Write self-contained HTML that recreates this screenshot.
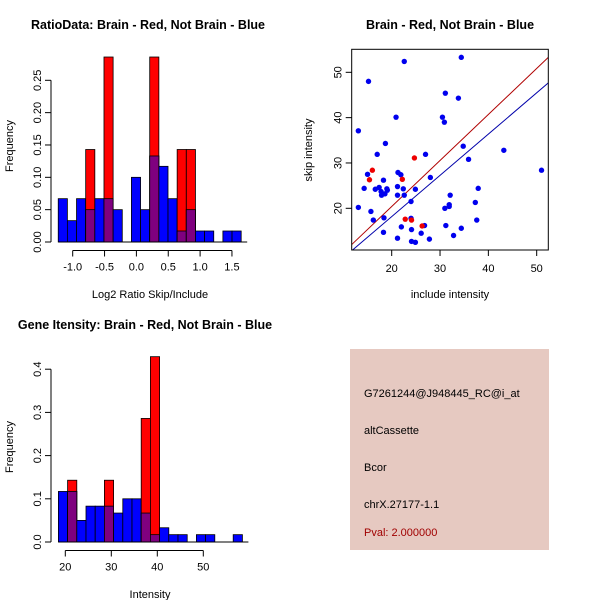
<!DOCTYPE html>
<html><head><meta charset="utf-8"><style>
body{margin:0;background:#fff}
svg{display:block;font-family:"Liberation Sans",Helvetica,sans-serif}
</style></head><body>
<svg id="c" width="600" height="600" viewBox="0 0 600 600">
<rect width="600" height="600" fill="#fff"/>
<g id="h1"></g>
<g id="sc"></g>
<g id="h2"></g>
<g>
<rect x="350" y="349" width="199" height="201" fill="#e6c9c1"/>
<text x="364" y="397" font-size="11">G7261244@J948445_RC@i_at</text>
<text x="364" y="434" font-size="11">altCassette</text>
<text x="364" y="471" font-size="11">Bcor</text>
<text x="364" y="508" font-size="11">chrX.27177-1.1</text>
<text x="364" y="536" font-size="11" fill="#a00000">Pval: 2.000000</text>
</g>
</svg>
<script>
// Ratio histogram data
const h1Start = -1.227, h1Width = 0.1436;
const h1Blue = [0.067,0.033,0.067,0.05,0.067,0.067,0.05,0,0.1,0.05,0.133,0.117,0.067,0.017,0.05,0.017,0.017,0,0.017,0.017];
const h1Red  = [0,0,0,0.143,0,0.286,0,0,0,0,0.286,0,0,0.143,0.143,0,0,0,0,0];
const h1XTicks = [-1.0,-0.5,0.0,0.5,1.0,1.5];
const h1YTicks = [0,0.05,0.10,0.15,0.20,0.25];
const h1XLabels = ["-1.0","-0.5","0.0","0.5","1.0","1.5"];
const h1YLabels = ["0.00","0.05","0.10","0.15","0.20","0.25"];
// Intensity histogram data
const h2Start = 18.5, h2Width = 2;
const h2Blue = [0.117,0.117,0.05,0.083,0.083,0.083,0.067,0.1,0.1,0.067,0.017,0.033,0.017,0.017,0,0.017,0.017,0,0,0.017];
const h2Red  = [0,0.143,0,0,0,0.143,0,0,0,0.286,0.429,0,0,0,0,0,0,0,0,0];
const h2XTicks = [20,30,40,50];
const h2YTicks = [0,0.1,0.2,0.3,0.4];
const h2YLabels = ["0.0","0.1","0.2","0.3","0.4"];
// Scatter data
const blueX = [13.1,13.1,15.2,15.0,14.3,15.7,16.2,17.0,16.6,17.4,17.8,17.9,18.6,18.3,18.7,19.0,19.1,18.4,18.3,20.9,21.2,21.2,21.2,21.3,21.9,22.6,22.4,22.6,22.0,24.9,24.0,24.1,24.1,24.9,24.0,27.0,28.0,26.8,26.1,27.8,30.5,30.9,31.1,31.0,31.2,31.9,31.9,32.1,32.8,33.8,34.4,34.4,34.8,35.9,37.3,37.6,37.9,43.2,51.0];
const blueY = [37.1,20.2,48.0,27.5,24.4,19.3,17.4,31.9,24.2,24.6,23.7,22.9,23.2,26.2,34.3,24.3,24.0,17.9,14.7,40.1,24.8,22.9,13.4,27.9,27.4,52.4,24.3,22.9,15.9,24.2,17.8,15.3,12.7,12.5,21.5,31.9,26.8,16.2,14.5,13.2,40.1,39.0,45.4,20.0,16.2,20.8,20.4,22.9,14.0,44.3,53.3,15.6,33.7,30.8,21.3,17.4,24.4,32.8,28.4];
const redX = [15.4,16.0,22.2,24.7,22.8,24.1,26.3];
const redY = [26.3,28.4,26.4,31.1,17.6,17.4,16.1];
const redSlope = 1.015, redIntercept = 0.1;
const blueSlope = 0.91, blueIntercept = -0.03;
const scXTicks = [20,30,40,50];
const scYTicks = [20,30,40,50];

const NS = "http://www.w3.org/2000/svg";
function mk(parent, tag, attrs, text){
  const e = document.createElementNS(NS, tag);
  for (const k in attrs) e.setAttribute(k, attrs[k]);
  if (text !== undefined) e.textContent = text;
  parent.appendChild(e);
  return e;
}
function hist(g, cfg){
  const X = v => cfg.x0 + (v - cfg.xv0) * cfg.xs;
  const Y = v => cfg.y0 - v * cfg.ys;
  for (let i = 0; i < cfg.blue.length; i++){
    const a = X(cfg.start + i*cfg.width), b = X(cfg.start + (i+1)*cfg.width);
    const bv = cfg.blue[i], rv = cfg.red[i];
    let r;
    if (bv > 0){
      r = mk(g,'rect',{x:a,y:Y(bv),width:b-a,height:Y(0)-Y(bv),fill:'#0000ff',stroke:'#000','stroke-width':0.8});
      
      
    }
    if (rv > 0){
      r = mk(g,'rect',{x:a,y:Y(rv),width:b-a,height:Y(0)-Y(rv),fill:'#ff0000',stroke:'#000','stroke-width':0.8});
      
      
      const m = Math.min(bv, rv);
      if (m > 0){
        r = mk(g,'rect',{x:a,y:Y(m),width:b-a,height:Y(0)-Y(m),fill:'#7f007f',stroke:'#000','stroke-width':0.8});
        
        
      }
    }
  }
  mk(g,'line',{x1:cfg.x0-(cfg.xv0-cfg.start)*cfg.xs,x2:cfg.x0+(cfg.start+cfg.blue.length*cfg.width-cfg.xv0)*cfg.xs+6,y1:Y(0),y2:Y(0),stroke:'#000'});
  const yt = cfg.yticks;
  mk(g,'line',{x1:cfg.yAxisX,x2:cfg.yAxisX,y1:Y(yt[0]),y2:Y(yt[yt.length-1]),stroke:'#000'});
  yt.forEach((v,i)=>{
    mk(g,'line',{x1:cfg.yAxisX-6,x2:cfg.yAxisX,y1:Y(v),y2:Y(v),stroke:'#000'});
    const t = mk(g,'text',{x:0,y:0,'font-size':11,'text-anchor':'middle',transform:`translate(${cfg.yAxisX-10},${Y(v)}) rotate(-90)`},cfg.ylabels[i]);
    
    
  });
  const xt = cfg.xticks;
  mk(g,'line',{x1:X(xt[0]),x2:X(xt[xt.length-1]),y1:cfg.xAxisY,y2:cfg.xAxisY,stroke:'#000'});
  xt.forEach((v,i)=>{
    mk(g,'line',{x1:X(v),x2:X(v),y1:cfg.xAxisY,y2:cfg.xAxisY+6,stroke:'#000'});
    const t = mk(g,'text',{x:X(v),y:cfg.xAxisY+20,'font-size':11,'text-anchor':'middle'},cfg.xlabels[i]);
    
    
  });
}
const h1 = document.getElementById('h1');
hist(h1,{x0:72.7,xv0:-1.0,xs:63.7,y0:242,ys:646.8,start:h1Start,width:h1Width,blue:h1Blue,red:h1Red,
  yticks:h1YTicks,ylabels:h1YLabels,xticks:h1XTicks,xlabels:h1XLabels,yAxisX:51,xAxisY:250.5});
mk(h1,'text',{x:148,y:29,'font-size':12.5,'font-weight':'bold','text-anchor':'middle',},'RatioData: Brain - Red, Not Brain - Blue');
mk(h1,'text',{x:150,y:298,'font-size':11,'text-anchor':'middle',},'Log2 Ratio Skip/Include');
mk(h1,'text',{x:0,y:0,'font-size':11,'text-anchor':'middle',transform:'translate(13,146) rotate(-90)',},'Frequency');

const h2 = document.getElementById('h2');
hist(h2,{x0:65.3,xv0:20,xs:4.6,y0:542,ys:432,start:h2Start,width:h2Width,blue:h2Blue,red:h2Red,
  yticks:h2YTicks,ylabels:h2YLabels,xticks:h2XTicks,xlabels:h2XTicks.map(String),yAxisX:51,xAxisY:550.5});
mk(h2,'text',{x:145,y:329,'font-size':12.5,'font-weight':'bold','text-anchor':'middle',},'Gene Itensity: Brain - Red, Not Brain - Blue');
mk(h2,'text',{x:150,y:598,'font-size':11,'text-anchor':'middle',},'Intensity');
mk(h2,'text',{x:0,y:0,'font-size':11,'text-anchor':'middle',transform:'translate(13,447) rotate(-90)',},'Frequency');

const sc = document.getElementById('sc');
const SX = v => 391.7 + (v-20)*4.833;
const SY = v => 208.3 - (v-20)*4.533;
const L=351.7,R=548.3,T=49.3,B=250;
mk(sc,'defs',{}).innerHTML='<clipPath id="clp"><rect x="351.7" y="49.3" width="196.6" height="200.7"/></clipPath>';
const xL = 20 + (L-391.7)/4.833, xR = 20 + (R-391.7)/4.833;
let ln = mk(sc,'line',{x1:L,x2:R,y1:SY(redSlope*xL+redIntercept),y2:SY(redSlope*xR+redIntercept),stroke:'#b00000','clip-path':'url(#clp)'});


ln = mk(sc,'line',{x1:L,x2:R,y1:SY(blueSlope*xL+blueIntercept),y2:SY(blueSlope*xR+blueIntercept),stroke:'#0000aa','clip-path':'url(#clp)'});


for (let i=0;i<blueX.length;i++){
  const p = mk(sc,'circle',{cx:SX(blueX[i]),cy:SY(blueY[i]),r:2.7,fill:'#0000ee'});
  
  
}
for (let i=0;i<redX.length;i++){
  const p = mk(sc,'circle',{cx:SX(redX[i]),cy:SY(redY[i]),r:2.7,fill:'#ee0000'});
  
  
}
mk(sc,'rect',{x:L,y:T,width:R-L,height:B-T,fill:'none',stroke:'#000',});
scXTicks.forEach(v=>{
  mk(sc,'line',{x1:SX(v),x2:SX(v),y1:B,y2:B+6,stroke:'#000'});
  const t = mk(sc,'text',{x:SX(v),y:272,'font-size':11,'text-anchor':'middle'},String(v));
  
  
});
scYTicks.forEach(v=>{
  mk(sc,'line',{x1:L-6,x2:L,y1:SY(v),y2:SY(v),stroke:'#000'});
  const t = mk(sc,'text',{x:0,y:0,'font-size':11,'text-anchor':'middle',transform:`translate(${L-10},${SY(v)}) rotate(-90)`},String(v));
  
  
});
mk(sc,'text',{x:450,y:29,'font-size':12.5,'font-weight':'bold','text-anchor':'middle',},'Brain - Red, Not Brain - Blue');
mk(sc,'text',{x:450,y:298,'font-size':11,'text-anchor':'middle',},'include intensity');
mk(sc,'text',{x:0,y:0,'font-size':11,'text-anchor':'middle',transform:'translate(312,150) rotate(-90)',},'skip intensity');
</script>
</body></html>
